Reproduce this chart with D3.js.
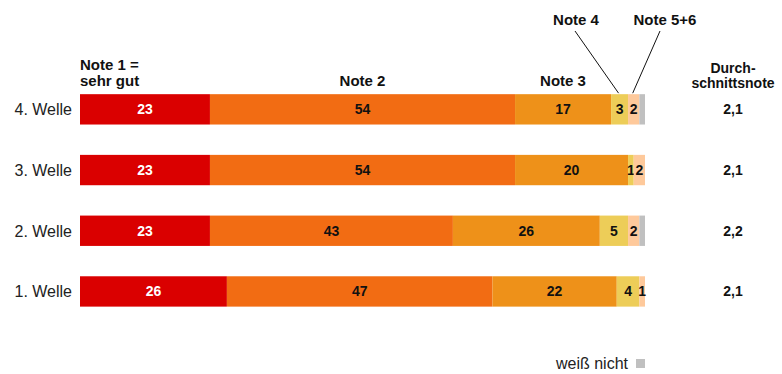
<!DOCTYPE html>
<html><head><meta charset="utf-8">
<script src="https://cdn.jsdelivr.net/npm/d3@7"></script>
<style>body{margin:0;background:#fff}svg{font-family:"Liberation Sans",Arial,sans-serif}</style>
</head><body><svg id="c" width="782" height="374"></svg>
<script>
const waves = ["4. Welle", "3. Welle", "2. Welle", "1. Welle"];
const note1 = [23, 23, 23, 26];
const note2 = [54, 54, 43, 47];
const note3 = [17, 20, 26, 22];
const note4 = [3, 1, 5, 4];
const note56 = [2, 2, 2, 1];
const weissNicht = [1, 0, 1, 0];
const average = ["2,1", "2,1", "2,2", "2,1"];
const seriesNames = ["Note 1", "Note 2", "Note 3", "Note 4", "Note 5+6", "weiß nicht"];
const colors = ["#da0000", "#f26c13", "#ee9119", "#edcd58", "#fec99b", "#c0c0c0"];
const textColors = ["#fff", "#111", "#111", "#111", "#111", null];

const svg = d3.select("#c");
const x = d3.scaleLinear().domain([0, 100]).range([80, 645]);
const y = d3.scaleBand().domain(waves).range([79, 321.8]).paddingInner(0.5).paddingOuter(0.25);

const series = [note1, note2, note3, note4, note56, weissNicht];
const rows = waves.map((w, i) => {
  const r = { wave: w };
  seriesNames.forEach((s, k) => r[s] = series[k][i]);
  return r;
});
const stacked = d3.stack().keys(seriesNames)(rows);

const g = svg.append("g");
stacked.forEach((layer, k) => {
  layer.forEach(d => {
    const x0 = x(d[0]), x1 = x(d[1]);
    const yy = y(d.data.wave);
    if (x1 > x0) {
      g.append("rect").attr("x", x0).attr("y", yy).attr("width", x1 - x0)
        .attr("height", y.bandwidth()).attr("fill", colors[k]);
    }
    if (textColors[k] && d[1] - d[0] > 0) {
      g.append("text").attr("x", (x0 + x1) / 2).attr("y", yy + y.bandwidth() / 2 + 5)
        .attr("text-anchor", "middle").attr("font-size", 14).attr("font-weight", "bold")
        .attr("fill", textColors[k]).text(d[1] - d[0]);
    }
  });
});

// wave labels
svg.append("g").selectAll("text").data(waves).join("text")
  .attr("x", 72).attr("y", d => y(d) + y.bandwidth() / 2 + 6)
  .attr("text-anchor", "end").attr("font-size", 16).attr("fill", "#222").text(d => d);

// average grade column
svg.append("g").selectAll("text").data(average).join("text")
  .attr("x", 733).attr("y", (d, i) => y(waves[i]) + y.bandwidth() / 2 + 5)
  .attr("text-anchor", "middle").attr("font-size", 14).attr("font-weight", "bold")
  .attr("fill", "#111").text(d => d);

const head = svg.append("g").attr("font-weight", "bold").attr("fill", "#111");
head.append("text").attr("x", 733).attr("y", 73).attr("text-anchor", "middle").attr("font-size", 14).text("Durch-");
head.append("text").attr("x", 733).attr("y", 88).attr("text-anchor", "middle").attr("font-size", 14).text("schnittsnote");
head.append("text").attr("x", 80).attr("y", 70).attr("font-size", 15).text("Note 1 =");
head.append("text").attr("x", 80).attr("y", 86).attr("font-size", 15).text("sehr gut");
head.append("text").attr("x", x(note1[0] + note2[0] / 2)).attr("y", 86).attr("text-anchor", "middle").attr("font-size", 15).text("Note 2");
head.append("text").attr("x", 563).attr("y", 86).attr("text-anchor", "middle").attr("font-size", 15).text("Note 3");
head.append("text").attr("x", 576).attr("y", 25).attr("text-anchor", "middle").attr("font-size", 15).text("Note 4");
head.append("text").attr("x", 665).attr("y", 25).attr("text-anchor", "middle").attr("font-size", 15).text("Note 5+6");

// leader lines to the small segments of the top bar
const top0 = y(waves[0]);
const n4mid = x(note1[0] + note2[0] + note3[0] + note4[0] / 2) - 1;
const n56mid = x(note1[0] + note2[0] + note3[0] + note4[0] + note56[0] / 2) - 1;
svg.append("line").attr("x1", 575).attr("y1", 31).attr("x2", n4mid).attr("y2", top0 - 1)
  .attr("stroke", "#111").attr("stroke-width", 1);
svg.append("line").attr("x1", 660).attr("y1", 31).attr("x2", n56mid).attr("y2", top0 - 1)
  .attr("stroke", "#111").attr("stroke-width", 1);

// legend
svg.append("text").attr("x", 628).attr("y", 369).attr("text-anchor", "end")
  .attr("font-size", 16).attr("fill", "#222").text("weiß nicht");
svg.append("rect").attr("x", 636).attr("y", 359).attr("width", 9).attr("height", 9).attr("fill", colors[5]);
</script></body></html>
